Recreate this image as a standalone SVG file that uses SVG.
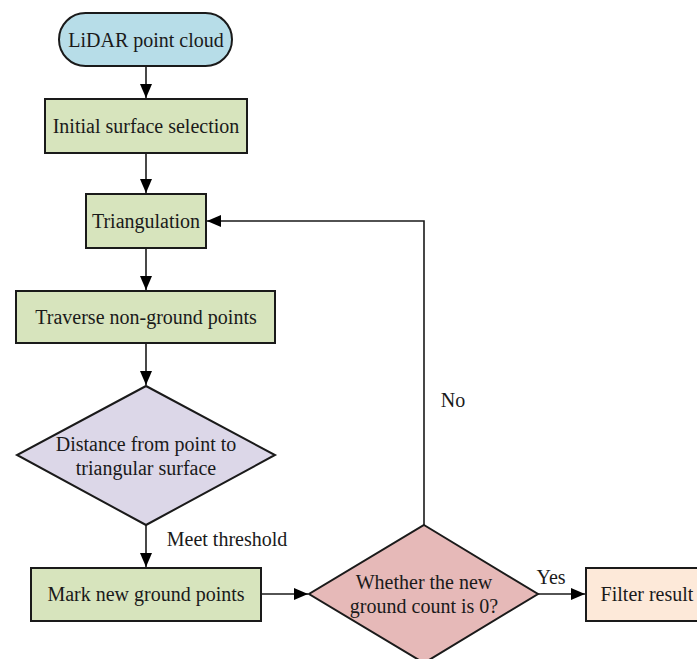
<svg xmlns="http://www.w3.org/2000/svg" width="697" height="659" viewBox="0 0 697 659">
<style>
text{font-family:'Liberation Serif','DejaVu Serif',serif;font-size:20px;fill:#1a1a1a;text-anchor:middle}
.s{stroke:#1a1a1a;stroke-width:2}
.g{fill:#d7e4bd}
.c{fill:none;stroke:#1a1a1a;stroke-width:1.6}
</style>
<defs>
<marker id="a" markerWidth="14" markerHeight="12" refX="14" refY="6" orient="auto" markerUnits="userSpaceOnUse" viewBox="0 0 14 12">
<path d="M0,0 L14,6 L0,12 z" fill="#000"/>
</marker>
</defs>
<rect width="697" height="659" fill="#fff"/>
<g id="connectors">
<path class="c" d="M146,66 V98" marker-end="url(#a)"/>
<path class="c" d="M146,153 V193" marker-end="url(#a)"/>
<path class="c" d="M146,248 V290" marker-end="url(#a)"/>
<path class="c" d="M146,343 V385" marker-end="url(#a)"/>
<path class="c" d="M146,525 V567" marker-end="url(#a)"/>
<path class="c" d="M261,594 H308" marker-end="url(#a)"/>
<path class="c" d="M538,594 H585" marker-end="url(#a)"/>
<path class="c" d="M424,525 V221 H207" marker-end="url(#a)"/>
<text x="227" y="546">Meet threshold</text>
<text x="453" y="407">No</text>
<text x="551" y="584">Yes</text>
</g>
<g id="n1"><rect class="s" x="59" y="13" width="173" height="53" rx="26.5" fill="#b7dde8"/><text x="146" y="47">LiDAR point cloud</text></g>
<g id="n2"><rect class="s g" x="45" y="99" width="202" height="54"/><text x="146" y="133">Initial surface selection</text></g>
<g id="n3"><rect class="s g" x="86" y="194" width="120" height="54"/><text x="146" y="228">Triangulation</text></g>
<g id="n4"><rect class="s g" x="16" y="291" width="259" height="52"/><text x="146" y="324">Traverse non-ground points</text></g>
<g id="n5"><path class="s" d="M146,386 L275,455 L146,525 L17,455 Z" fill="#dcd7e8" stroke-width="1.5"/><text x="146" y="451">Distance from point to</text><text x="146" y="475">triangular surface</text></g>
<g id="n6"><rect class="s g" x="31" y="568" width="230" height="53"/><text x="146" y="601">Mark new ground points</text></g>
<g id="n7"><path class="s" d="M424,525 L538,594 L424,663 L309,594 Z" fill="#e6b9b8" stroke-width="1.5"/><text x="424" y="589">Whether the new</text><text x="424" y="613">ground count is 0?</text></g>
<g id="n8"><rect class="s" x="586" y="568" width="114" height="53" fill="#fde9d9"/><text x="647" y="601">Filter result</text></g>
</svg>
